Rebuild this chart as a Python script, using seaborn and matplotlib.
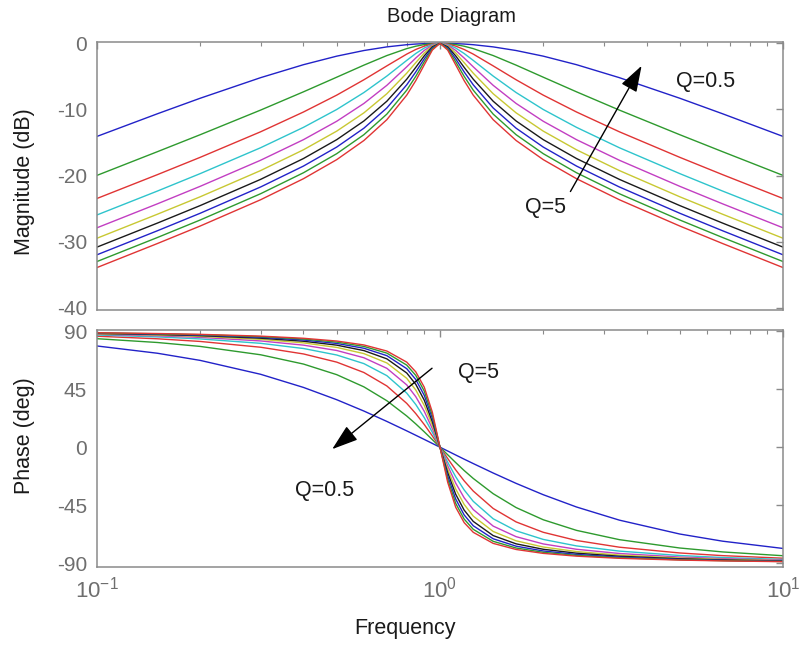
import numpy as np
import pandas as pd
import matplotlib
matplotlib.use("Agg")
import matplotlib.pyplot as plt
import seaborn as sns
from matplotlib.ticker import LogLocator, NullFormatter, FixedLocator

# frequency grid (rad/s) read along the x axis
freq = [0.1, 0.15, 0.2, 0.3, 0.4, 0.5, 0.6, 0.7, 0.8, 0.85, 0.9, 0.95, 1.0,
        1.053, 1.111, 1.176, 1.25, 1.429, 1.667, 2.0, 2.5, 3.333, 5.0, 6.667, 10.0]

q_labels = ["0.5", "1", "1.5", "2", "2.5", "3", "3.5", "4", "4.5", "5"]

# magnitude (dB), one list per Q
mag_q05 = [-14.07, -10.65, -8.30, -5.19, -3.23, -1.94, -1.09, -0.54, -0.21, -0.11, -0.05, -0.01, 0,
           -0.01, -0.05, -0.11, -0.21, -0.54, -1.09, -1.94, -3.23, -5.19, -8.30, -10.65, -14.07]
mag_q10 = [-19.96, -16.38, -13.81, -10.09, -7.33, -5.12, -3.30, -1.85, -0.80, -0.44, -0.19, -0.05, 0,
           -0.05, -0.19, -0.44, -0.80, -1.85, -3.30, -5.12, -7.33, -10.09, -13.81, -16.38, -19.96]
mag_q15 = [-23.45, -19.85, -17.23, -13.37, -10.38, -7.83, -5.51, -3.41, -1.63, -0.93, -0.42, -0.10, 0,
           -0.10, -0.42, -0.93, -1.63, -3.41, -5.51, -7.83, -10.38, -13.37, -17.23, -19.85, -23.45]
mag_q20 = [-25.94, -22.33, -19.69, -15.78, -12.70, -10.00, -7.44, -4.95, -2.58, -1.54, -0.71, -0.18, 0,
           -0.18, -0.71, -1.54, -2.58, -4.95, -7.44, -10.00, -12.70, -15.78, -19.69, -22.33, -25.94]
mag_q25 = [-27.88, -24.26, -21.61, -17.67, -14.56, -11.78, -9.09, -6.35, -3.55, -2.22, -1.07, -0.28, 0,
           -0.28, -1.07, -2.22, -3.55, -6.35, -9.09, -11.78, -14.56, -17.67, -21.61, -24.26, -27.88]
mag_q30 = [-29.46, -25.83, -23.19, -19.23, -16.09, -13.27, -10.51, -7.62, -4.51, -2.92, -1.46, -0.39, 0,
           -0.39, -1.46, -2.92, -4.51, -7.62, -10.51, -13.27, -16.09, -19.23, -23.19, -25.83, -29.46]
mag_q35 = [-30.80, -27.17, -24.52, -20.56, -17.41, -14.56, -11.74, -8.75, -5.42, -3.63, -1.89, -0.53, 0,
           -0.53, -1.89, -3.63, -5.42, -8.75, -11.74, -14.56, -17.41, -20.56, -24.52, -27.17, -30.80]
mag_q40 = [-31.96, -28.33, -25.68, -21.71, -18.55, -15.68, -12.83, -9.77, -6.27, -4.32, -2.34, -0.68, 0,
           -0.68, -2.34, -4.32, -6.27, -9.77, -12.83, -15.68, -18.55, -21.71, -25.68, -28.33, -31.96]
mag_q45 = [-32.98, -29.35, -26.70, -22.73, -19.56, -16.68, -13.81, -10.70, -7.08, -4.99, -2.79, -0.84, 0,
           -0.84, -2.79, -4.99, -7.08, -10.70, -13.81, -16.68, -19.56, -22.73, -26.70, -29.35, -32.98]
mag_q50 = [-33.89, -30.26, -27.61, -23.64, -20.46, -17.58, -14.69, -11.54, -7.83, -5.64, -3.25, -1.02, 0,
           -1.02, -3.25, -5.64, -7.83, -11.54, -14.69, -17.58, -20.46, -23.64, -27.61, -30.26, -33.89]

# phase (deg), one list per Q
ph_q05 = [78.58, 72.94, 67.38, 56.60, 46.40, 36.87, 28.07, 20.02, 12.68, 9.27, 6.03, 2.94, 0,
          -2.94, -6.03, -9.27, -12.68, -20.02, -28.07, -36.87, -46.40, -56.60, -67.38, -72.94, -78.58]
ph_q10 = [84.23, 81.28, 78.23, 71.75, 64.54, 56.31, 46.85, 36.08, 24.23, 18.08, 11.92, 5.86, 0,
          -5.86, -11.92, -18.08, -24.23, -36.08, -46.85, -56.31, -64.54, -71.75, -78.23, -81.28, -84.23]
ph_q15 = [86.15, 84.16, 82.09, 77.60, 72.39, 66.04, 57.99, 47.54, 34.02, 26.09, 17.57, 8.75, 0,
          -8.75, -17.57, -26.09, -34.02, -47.54, -57.99, -66.04, -72.39, -77.60, -82.09, -84.16, -86.15]
ph_q20 = [87.11, 85.61, 84.05, 80.64, 76.61, 71.57, 64.89, 55.54, 41.99, 33.14, 22.89, 11.60, 0,
          -11.60, -22.89, -33.14, -41.99, -55.54, -64.89, -71.57, -76.61, -80.64, -84.05, -85.61, -87.11]
ph_q25 = [87.69, 86.49, 85.24, 82.49, 79.22, 75.07, 69.44, 61.23, 48.37, 39.22, 27.82, 14.39, 0,
          -14.39, -27.82, -39.22, -48.37, -61.23, -69.44, -75.07, -79.22, -82.49, -85.24, -86.49, -87.69]
ph_q30 = [88.07, 87.07, 86.03, 83.73, 80.98, 77.47, 72.65, 65.41, 53.47, 44.40, 32.35, 17.11, 0,
          -17.11, -32.35, -44.40, -53.47, -65.41, -72.65, -77.47, -80.98, -83.73, -86.03, -87.07, -88.07]
ph_q35 = [88.35, 87.49, 86.59, 84.62, 82.25, 79.22, 75.00, 68.59, 57.59, 48.81, 36.46, 19.76, 0,
          -19.76, -36.46, -48.81, -57.59, -68.59, -75.00, -79.22, -82.25, -84.62, -86.59, -87.49, -88.35]
ph_q40 = [88.55, 87.80, 87.02, 85.29, 83.21, 80.54, 76.81, 71.07, 60.95, 52.55, 40.18, 22.32, 0,
          -22.32, -40.18, -52.55, -60.95, -71.07, -76.81, -80.54, -83.21, -85.29, -87.02, -87.80, -88.55]
ph_q45 = [88.71, 88.05, 87.35, 85.81, 83.96, 81.57, 78.23, 73.04, 63.72, 55.76, 43.53, 24.79, 0,
          -24.79, -43.53, -55.76, -63.72, -73.04, -78.23, -81.57, -83.96, -85.81, -87.35, -88.05, -88.71]
ph_q50 = [88.84, 88.24, 87.61, 86.23, 84.56, 82.41, 79.38, 74.65, 66.04, 58.51, 46.55, 27.17, 0,
          -27.17, -46.55, -58.51, -66.04, -74.65, -79.38, -82.41, -84.56, -86.23, -87.61, -88.24, -88.84]

mag_lists = [mag_q05, mag_q10, mag_q15, mag_q20, mag_q25,
             mag_q30, mag_q35, mag_q40, mag_q45, mag_q50]
ph_lists = [ph_q05, ph_q10, ph_q15, ph_q20, ph_q25,
            ph_q30, ph_q35, ph_q40, ph_q45, ph_q50]

# old matlab line order b g r c m y k
line_colors = ["#2222c8", "#2e9a2e", "#e03434", "#2ec4cc", "#c23ec2",
               "#c8c832", "#1a1a1a", "#2222c8", "#2e9a2e", "#e03434"]

rows = []
for q, m, p in zip(q_labels, mag_lists, ph_lists):
    for f, mv, pv in zip(freq, m, p):
        rows.append({"Q": q, "freq": f, "mag": mv, "phase": pv})
df = pd.DataFrame(rows)

sns.set_theme(style="white")
plt.rcParams["font.family"] = ["Liberation Sans", "DejaVu Sans"]
plt.rcParams["axes.unicode_minus"] = False

fig = plt.figure(figsize=(8.04, 6.47), dpi=100)
ax1 = fig.add_axes([0.1206, 0.5209, 0.8533, 0.4142])
ax2 = fig.add_axes([0.1206, 0.1236, 0.8533, 0.3664])

sns.lineplot(data=df, x="freq", y="mag", hue="Q", hue_order=q_labels,
             palette=line_colors, legend=False, ax=ax1, linewidth=1.0, sort=False)
sns.lineplot(data=df, x="freq", y="phase", hue="Q", hue_order=q_labels,
             palette=line_colors, legend=False, ax=ax2, linewidth=1.0, sort=False)

spine_col = "#8a8a8a"
tick_col = "#6e6e6e"
for ax in (ax1, ax2):
    ax.set_xscale("log")
    ax.set_xlim(0.1, 10)
    ax.xaxis.set_major_locator(LogLocator(base=10))
    ax.xaxis.set_minor_locator(LogLocator(base=10, subs=np.arange(2, 10)))
    ax.xaxis.set_minor_formatter(NullFormatter())
    for s in ax.spines.values():
        s.set_color(spine_col)
        s.set_linewidth(1.1)
    ax.tick_params(which="both", direction="in", top=True, right=True,
                   color=spine_col, labelcolor=tick_col, labelsize=15, pad=7)
    ax.tick_params(which="major", length=5, width=1.0)
    ax.tick_params(which="minor", length=3, width=0.8)
    ax.set_xlabel("")
    ax.set_ylabel("")

ax1.set_ylim(-40.3, 0.2)
ax1.yaxis.set_major_locator(FixedLocator([0, -10, -20, -30, -40]))
ax1.tick_params(axis="x", which="both", labelbottom=False)

ax2.set_ylim(-93, 91)
ax2.yaxis.set_major_locator(FixedLocator([90, 45, 0, -45, -90]))
ax2.tick_params(axis="x", labelsize=16)

arrow = dict(arrowstyle="-|>,head_length=0.9,head_width=0.3", color="black",
             lw=1.0, mutation_scale=18, shrinkA=0, shrinkB=0)
ax1.annotate("", xy=(3.87, -3.4), xytext=(2.40, -22.4), arrowprops=arrow)
ax1.text(5.93, -5.7, "Q=0.5", fontsize=15.5, ha="center", va="center", color="#1a1a1a")
ax1.text(2.03, -24.8, "Q=5", fontsize=15.5, ha="center", va="center", color="#1a1a1a")

ax2.annotate("", xy=(0.485, -1.5), xytext=(0.948, 61.3), arrowprops=arrow)
ax2.text(1.298, 58.2, "Q=5", fontsize=15.5, ha="center", va="center", color="#1a1a1a")
ax2.text(0.460, -33.4, "Q=0.5", fontsize=15.5, ha="center", va="center", color="#1a1a1a")

fig.text(0.562, 0.975, "Bode Diagram", fontsize=14.5, ha="center", va="center", color="#1a1a1a")
fig.text(0.031, 0.720, "Magnitude (dB)", fontsize=15.5, rotation=90,
         ha="center", va="center", color="#1a1a1a")
fig.text(0.031, 0.326, "Phase (deg)", fontsize=15.5, rotation=90,
         ha="center", va="center", color="#1a1a1a")
fig.text(0.504, 0.029, "Frequency", fontsize=15.5, ha="center", va="center", color="#1a1a1a")

fig.savefig("out.png", dpi=100, facecolor="white")
